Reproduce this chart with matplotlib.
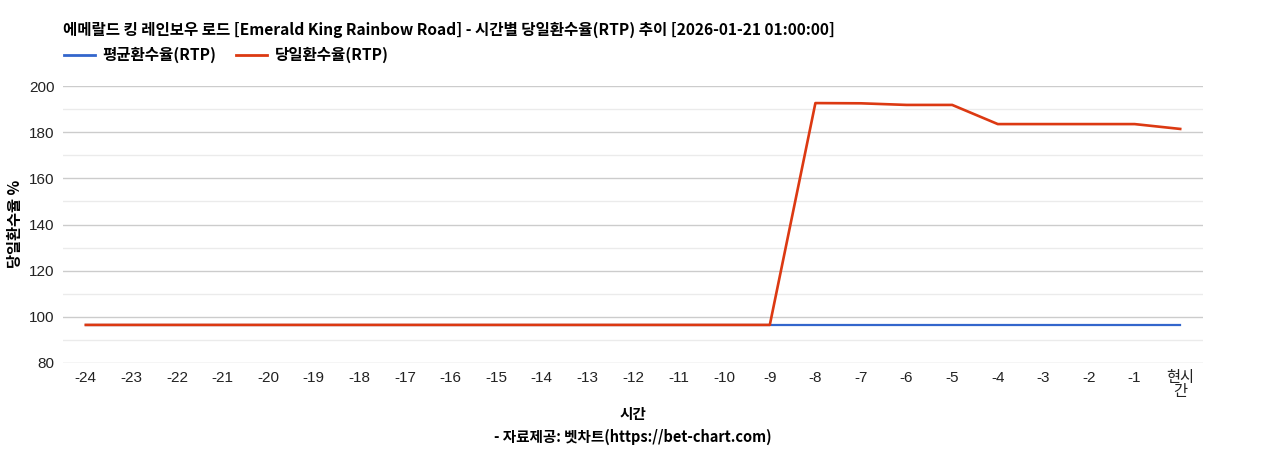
import matplotlib
matplotlib.use("Agg")
import matplotlib.pyplot as plt
from matplotlib.ticker import MultipleLocator
from matplotlib.lines import Line2D

plt.rcParams['font.family'] = ['Noto Sans CJK KR', 'DejaVu Sans']

categories = [str(i) for i in range(-24, 0)] + ["현시\n간"]
avg_rtp = [96.5] * 25
daily_rtp = [96.5] * 16 + [192.6, 192.5, 191.8, 191.8, 183.5, 183.5, 183.5, 183.5, 181.4]

title = "에메랄드 킹 레인보우 로드 [Emerald King Rainbow Road] - 시간별 당일환수율(RTP) 추이 [2026-01-21 01:00:00]"

fig = plt.figure(figsize=(12.68, 4.5), dpi=100)
ax = fig.add_axes([63/1268, 1 - 363/450, (1203-63)/1268, (363-86)/450])

x = list(range(len(categories)))
blue = "#3366cc"
red = "#dc3912"
ax.plot(x, avg_rtp, color=blue, lw=1.6, zorder=3)
ax.plot(x, daily_rtp, color=red, lw=1.9, zorder=4)

ax.set_xlim(-0.5, len(categories) - 0.5)
ax.set_ylim(80, 200)
ax.yaxis.set_major_locator(MultipleLocator(20))
ax.yaxis.set_minor_locator(MultipleLocator(10))
ax.grid(which='major', axis='y', color='#cccccc', lw=1)
ax.grid(which='minor', axis='y', color='#ebebeb', lw=1)
ax.set_axisbelow(True)
for s in ax.spines.values():
    s.set_visible(False)
ax.tick_params(axis='both', which='both', length=0)
ax.set_xticks(x)
ax.set_xticklabels(categories, fontsize=11, color='#222222', family=['Liberation Sans', 'Noto Sans CJK KR'], linespacing=1.0)
ax.tick_params(axis='x', pad=6)
ax.tick_params(axis='y', pad=6)
for lab in ax.get_yticklabels():
    lab.set_fontsize(11)
    lab.set_color('#222222')
    lab.set_family(['Liberation Sans', 'Noto Sans CJK KR'])

fig.text(15/1268, 1 - 224/450, "당일환수율 %", rotation=90, ha='center', va='center', fontsize=11, fontweight='bold')

fig.text(633/1268, 1 - 414/450, "시간", ha='center', va='center', fontsize=10.5, fontweight='bold')
fig.text(633/1268, 1 - 437/450, "- 자료제공: 벳차트(https://bet-chart.com)", ha='center', va='center', fontsize=10.5, fontweight='bold')
fig.text(63/1268, 1 - 30/450, title, ha='left', va='center', fontsize=11.2, fontweight='bold')

handles = [Line2D([0], [0], color=blue, lw=2), Line2D([0], [0], color=red, lw=2)]
fig.legend(handles, ["평균환수율(RTP)", "당일환수율(RTP)"], loc='center left',
           bbox_to_anchor=(50/1268, 1 - 55/450), ncol=2, frameon=False,
           prop={'size': 11.2, 'weight': 'bold'}, handlelength=2.0, columnspacing=1.3, handletextpad=0.45)

fig.savefig("out.png", dpi=100)
